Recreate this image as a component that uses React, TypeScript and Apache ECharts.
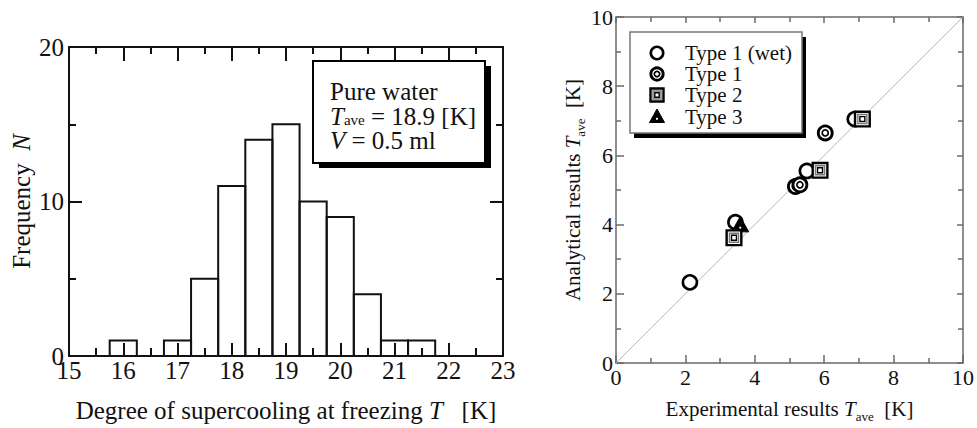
import React, { useEffect, useRef } from "react";
import * as echarts from "echarts";

// ---------- data ----------
// Left: histogram of supercooling degree
const binCenters = [16, 17, 17.5, 18, 18.5, 19, 19.5, 20, 20.5, 21, 21.5];
const binCounts = [1, 1, 5, 11, 14, 15, 10, 9, 4, 1, 1];
const binWidth = 0.5;

// Right: analytical vs experimental T_ave
const type1WetX = [2.13, 3.44, 5.5, 6.88];
const type1WetY = [2.33, 4.07, 5.55, 7.05];
const type1X = [5.17, 5.3, 6.03];
const type1Y = [5.1, 5.15, 6.65];
const type2X = [3.4, 5.88, 7.1];
const type2Y = [3.62, 5.57, 7.05];
const type3X = [3.58];
const type3Y = [3.97];
const diagonalX = [0, 10];
const diagonalY = [0, 10];

const legendLabels = ["Type 1 (wet)", "Type 1", "Type 2", "Type 3"];
const legendKinds = ["wet", "t1", "t2", "t3"];

const SERIF = "'Liberation Serif', 'DejaVu Serif', serif";
const INK = "#111";

function zip(xs: number[], ys: number[]) {
  return xs.map((x, i) => [x, ys[i]]);
}

function markerShapes(kind: string, cx: number, cy: number, k: number): any[] {
  if (kind === "wet") {
    return [
      { type: "circle", shape: { cx, cy, r: 6.2 * k }, style: { fill: "#fff", stroke: "#000", lineWidth: 2.6 } },
    ];
  }
  if (kind === "t1") {
    return [
      { type: "circle", shape: { cx, cy, r: 6.2 * k }, style: { fill: "#fff", stroke: "#000", lineWidth: 2.8 } },
      { type: "circle", shape: { cx, cy, r: 2.7 * k }, style: { fill: "#fff", stroke: "#000", lineWidth: 1.7 } },
    ];
  }
  if (kind === "t2") {
    const a = 6.5 * k, b = 4 * k, c = 2.2 * k;
    return [
      { type: "rect", shape: { x: cx - a, y: cy - a, width: 2 * a, height: 2 * a }, style: { fill: "#fff", stroke: "#000", lineWidth: 2.4 } },
      { type: "rect", shape: { x: cx - b, y: cy - b, width: 2 * b, height: 2 * b }, style: { fill: "none", stroke: "#777", lineWidth: 1.4 } },
      { type: "rect", shape: { x: cx - c, y: cy - c, width: 2 * c, height: 2 * c }, style: { fill: "#fff", stroke: "#000", lineWidth: 1.4 } },
    ];
  }
  return [
    { type: "polygon", shape: { points: [[cx, cy - 8 * k], [cx - 7.5 * k, cy + 5.5 * k], [cx + 7.5 * k, cy + 5.5 * k]] }, style: { fill: "#000", stroke: "#000", lineWidth: 1 } },
    { type: "circle", shape: { cx, cy: cy + 1.8 * k, r: 1.1 }, style: { fill: "#fff" } },
  ];
}

function markerSeries(kind: string, data: number[][]) {
  return {
    type: "custom",
    xAxisIndex: 2,
    yAxisIndex: 2,
    data,
    z: 5,
    renderItem: (_p: any, api: any) => {
      const pt = api.coord([api.value(0), api.value(1)]);
      return { type: "group", children: markerShapes(kind, pt[0], pt[1], 1.13) };
    },
  };
}

function valAxis(opts: {
  gridIndex: number;
  min: number;
  max: number;
  interval: number;
  position: string;
  showLabel: boolean;
  fontSize: number;
  color: string;
  width: number;
  tickLen: number;
  minorLen: number;
  labelMargin: number;
  lineHeight?: number;
}) {
  return {
    type: "value",
    gridIndex: opts.gridIndex,
    position: opts.position,
    min: opts.min,
    max: opts.max,
    interval: opts.interval,
    axisLine: { show: true, onZero: false, lineStyle: { color: opts.color, width: opts.width } },
    axisTick: { show: true, inside: true, length: opts.tickLen, lineStyle: { color: opts.color, width: opts.width } },
    minorTick: { show: true, splitNumber: 2, length: opts.minorLen, lineStyle: { color: opts.color, width: opts.width } },
    splitLine: { show: false },
    minorSplitLine: { show: false },
    axisLabel: {
      show: opts.showLabel,
      fontSize: opts.fontSize,
      fontFamily: SERIF,
      color: INK,
      margin: opts.labelMargin,
      hideOverlap: false,
      ...(opts.lineHeight ? { lineHeight: opts.lineHeight } : {}),
    },
  };
}

export default function App() {
  const ref = useRef<HTMLDivElement>(null);

  useEffect(() => {
    if (!ref.current) return;
    const chart = echarts.init(ref.current, undefined, { renderer: "svg" });

    const LC = "#111";
    const RC = "#6a6a6a";

    const xAxes: any[] = [
      {
        ...valAxis({ gridIndex: 0, min: 15, max: 23, interval: 1, position: "bottom", showLabel: true, fontSize: 25, color: LC, width: 2, tickLen: 13, minorLen: 8, labelMargin: 8, lineHeight: 12 }),
        name: "Degree of supercooling at freezing {i|T}   [K]",
        nameLocation: "middle",
        nameGap: 42,
        nameTextStyle: {
          fontSize: 25, fontFamily: SERIF, color: INK,
          rich: { i: { fontStyle: "italic", fontSize: 25, fontFamily: SERIF, color: INK } },
        },
      },
      valAxis({ gridIndex: 0, min: 15, max: 23, interval: 1, position: "top", showLabel: false, fontSize: 25, color: LC, width: 2, tickLen: 14, minorLen: 7, labelMargin: 2 }),
      {
        ...valAxis({ gridIndex: 1, min: 0, max: 10, interval: 2, position: "bottom", showLabel: true, fontSize: 22, color: RC, width: 1.5, tickLen: 8, minorLen: 5, labelMargin: 3 }),
        name: "{n|Experimental results }{i|T}{s|ave}{n|  [K]}",
        nameLocation: "middle",
        nameGap: 32,
        nameTextStyle: {
          fontSize: 21, fontFamily: SERIF, color: INK,
          rich: {
            n: { fontSize: 21, fontFamily: SERIF, color: INK, lineHeight: 28 },
            i: { fontStyle: "italic", fontSize: 21, fontFamily: SERIF, color: INK, lineHeight: 28 },
            s: { fontSize: 13, fontFamily: SERIF, color: INK, verticalAlign: "bottom" },
          },
        },
      },
      valAxis({ gridIndex: 1, min: 0, max: 10, interval: 2, position: "top", showLabel: false, fontSize: 22, color: RC, width: 1.5, tickLen: 6, minorLen: 5, labelMargin: 3 }),
    ];

    const yAxes: any[] = [
      {
        ...valAxis({ gridIndex: 0, min: 0, max: 20, interval: 10, position: "left", showLabel: true, fontSize: 25, color: LC, width: 2, tickLen: 13, minorLen: 7, labelMargin: 5, lineHeight: 14 }),
        name: "Frequency  {i|N}",
        nameLocation: "middle",
        nameGap: 35,
        nameTextStyle: {
          fontSize: 25, fontFamily: SERIF, color: INK,
          rich: { i: { fontStyle: "italic", fontSize: 25, fontFamily: SERIF, color: INK } },
        },
      },
      valAxis({ gridIndex: 0, min: 0, max: 20, interval: 10, position: "right", showLabel: false, fontSize: 25, color: LC, width: 2, tickLen: 13, minorLen: 7, labelMargin: 5 }),
      {
        ...valAxis({ gridIndex: 1, min: 0, max: 10, interval: 2, position: "left", showLabel: true, fontSize: 22, color: RC, width: 1.5, tickLen: 8, minorLen: 5, labelMargin: 3 }),
        name: "{n|Analytical results }{i|T}{s|ave}{n|  [K]}",
        nameLocation: "middle",
        nameGap: 20,
        nameTextStyle: {
          fontSize: 21, fontFamily: SERIF, color: INK,
          rich: {
            n: { fontSize: 21, fontFamily: SERIF, color: INK, lineHeight: 28 },
            i: { fontStyle: "italic", fontSize: 21, fontFamily: SERIF, color: INK, lineHeight: 28 },
            s: { fontSize: 13, fontFamily: SERIF, color: INK, verticalAlign: "bottom" },
          },
        },
      },
      valAxis({ gridIndex: 1, min: 0, max: 10, interval: 2, position: "right", showLabel: false, fontSize: 22, color: RC, width: 1.5, tickLen: 6, minorLen: 5, labelMargin: 3 }),
    ];

    // legend graphics
    const graphics: any[] = [];
    // left info box
    graphics.push({ type: "rect", shape: { x: 319, y: 66, width: 172, height: 102 }, style: { fill: "#000" }, z: 10 });
    graphics.push({ type: "rect", shape: { x: 313, y: 61, width: 172, height: 102 }, style: { fill: "#fff", stroke: "#000", lineWidth: 2 }, z: 11 });
    const boxRich = {
      n: { fontSize: 25, fontFamily: SERIF, fill: INK, lineHeight: 22 },
      i: { fontSize: 25, fontFamily: SERIF, fill: INK, fontStyle: "italic", lineHeight: 22 },
      s: { fontSize: 15, fontFamily: SERIF, fill: INK, verticalAlign: "bottom", lineHeight: 6 },
    };
    graphics.push({ type: "text", x: 330, y: 91, z: 12, style: { text: "{n|Pure water}", rich: boxRich, verticalAlign: "middle" } });
    graphics.push({ type: "text", x: 330, y: 116, z: 12, style: { text: "{i|T}{s|ave}{n| = 18.9 [K]}", rich: boxRich, verticalAlign: "middle" } });
    graphics.push({ type: "text", x: 330, y: 140, z: 12, style: { text: "{i|V}{n| = 0.5 ml}", rich: boxRich, verticalAlign: "middle" } });

    // right legend
    graphics.push({ type: "rect", shape: { x: 634, y: 37, width: 172, height: 101 }, style: { fill: "#000" }, z: 10 });
    graphics.push({ type: "rect", shape: { x: 630, y: 32, width: 172, height: 101 }, style: { fill: "#fff", stroke: "#777", lineWidth: 1.5 }, z: 11 });
    const rows = [53, 74, 95, 117];
    legendKinds.forEach((k, i) => {
      markerShapes(k, 657, rows[i], 1).forEach((el) => graphics.push({ ...el, z: 12 }));
      graphics.push({
        type: "text", x: 685, y: rows[i], z: 12,
        style: { text: legendLabels[i], fontSize: 21, lineHeight: 19, fontFamily: SERIF, fill: INK, verticalAlign: "middle" },
      });
    });

    chart.setOption({
      animation: false,
      backgroundColor: "#fff",
      grid: [
        { left: 69, top: 47, width: 434, height: 310, show: false },
        { left: 616, top: 17, width: 351, height: 351, show: false },
      ],
      xAxis: xAxes,
      yAxis: yAxes,
      series: [
        {
          type: "custom",
          xAxisIndex: 0,
          yAxisIndex: 0,
          data: zip(binCenters, binCounts),
          renderItem: (_p: any, api: any) => {
            const x = api.value(0);
            const y = api.value(1);
            const a = api.coord([x - binWidth / 2, y]);
            const b = api.coord([x + binWidth / 2, 0]);
            return {
              type: "rect",
              shape: { x: a[0], y: a[1], width: b[0] - a[0], height: b[1] - a[1] },
              style: { fill: "none", stroke: "#111", lineWidth: 2 },
            };
          },
        },
        {
          type: "line",
          xAxisIndex: 2,
          yAxisIndex: 2,
          data: zip(diagonalX, diagonalY),
          symbol: "none",
          lineStyle: { color: "#b5b5b5", width: 1 },
          z: 1,
        },
        markerSeries("wet", zip(type1WetX, type1WetY)),
        markerSeries("t1", zip(type1X, type1Y)),
        markerSeries("t3", zip(type3X, type3Y)),
        markerSeries("t2", zip(type2X, type2Y)),
      ],
      graphic: graphics,
    });

    return () => chart.dispose();
  }, []);

  return (
    <div
      ref={ref}
      style={{ position: "absolute", left: 0, top: 0, width: 977, height: 428, background: "#fff" }}
    />
  );
}
